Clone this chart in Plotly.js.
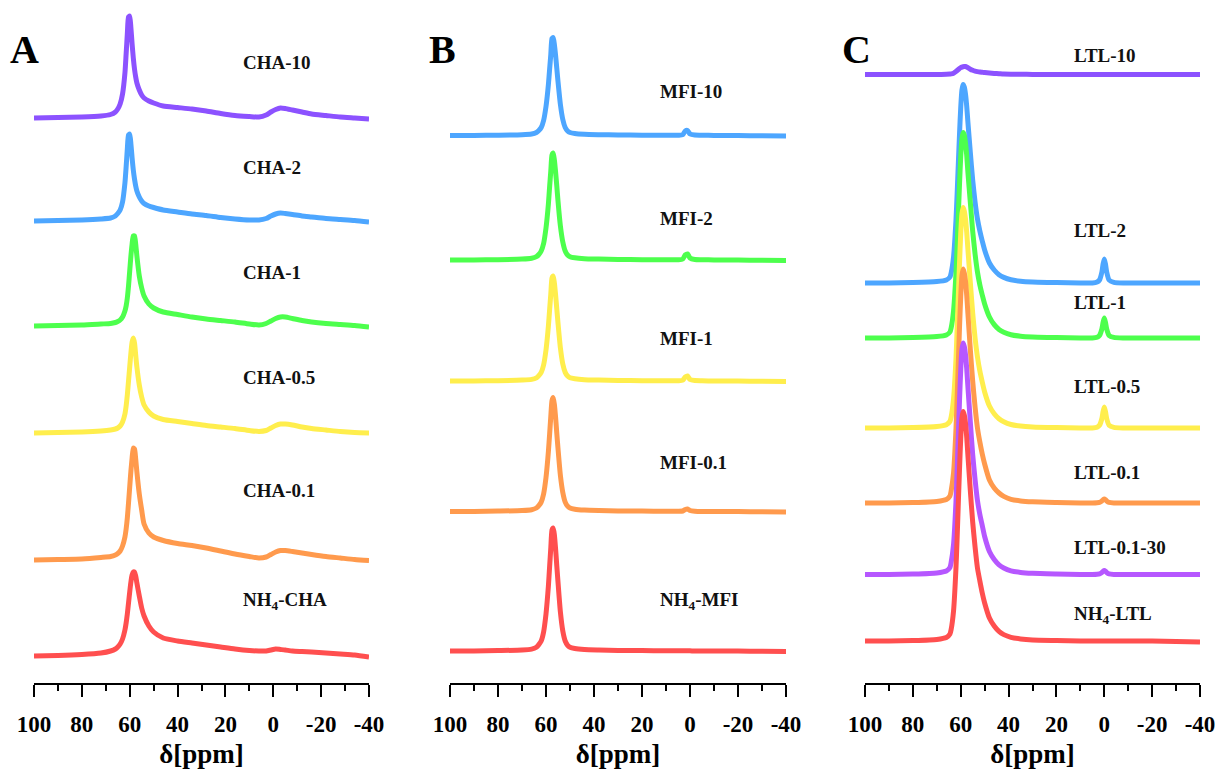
<!DOCTYPE html>
<html><head><meta charset="utf-8">
<script src="https://cdn.plot.ly/plotly-3.0.1.min.js"></script>
<style>html,body{margin:0;padding:0;background:#fff;}#chart{width:1220px;height:769px;}</style>
</head><body><div id="chart"></div>
<script>
// ---------- DATA ----------
const tickVals = [100, 80, 60, 40, 20, 0, -20, -40];
const tickText = ["100", "80", "60", "40", "20", "0", "-20", "-40"];
const minorVals = [90, 70, 50, 30, 10, -10, -30];

// Panel A (CHA)
const namesA = ["CHA-10", "CHA-2", "CHA-1", "CHA-0.5", "CHA-0.1", "NH<sub>4</sub>-CHA"];
const baseA = [565, 462, 357, 250, 123, 27];
const ppmA = [100, 90, 80, 72, 68, 66, 65, 64, 63, 62, 61.5, 61, 60.5, 60, 59.5, 59, 58.5, 58, 57.5, 57, 56, 55, 54, 52, 50, 46, 40, 34, 28, 22, 16, 10, 6, 3, 1, -1, -3, -5, -8, -12, -16, -22, -28, -34, -40];
const cha10 = [0, 0.5, 1, 2, 3.5, 6, 9, 14, 24, 45, 64, 84, 101, 102, 90, 74, 60, 49, 41, 35, 28, 23, 20, 17, 15, 12, 10.5, 9, 7, 4.5, 2.5, 1.5, 1, 3, 6, 8.5, 10, 9.5, 8, 6, 4, 2.5, 1, 0, -1];
const cha2 = [0, 0.5, 1, 2, 3, 5, 7.5, 11, 19, 38, 54, 72, 86, 87, 77, 63, 51, 42, 35, 30, 24, 20, 17.5, 15, 13.5, 11, 9, 7, 5.5, 3.5, 2, 1, 1, 2.5, 5, 7, 8, 7.5, 6.5, 5, 4, 2.5, 1.5, 0.5, -1];
const cha1 = [0, 0.5, 1, 2, 2.5, 3.5, 4.5, 6, 9, 15, 20, 28, 40, 55, 70, 82, 90, 90, 82, 70, 50, 38, 30, 22, 18, 14, 11.5, 9, 7, 5.5, 4, 2, 1, 2.5, 5, 7.5, 9, 9, 7.5, 5.5, 4, 2.5, 1.5, 0.5, -1];
const cha05 = [0, 0.5, 1, 2, 3, 4, 5, 7, 11, 19, 27, 38, 52, 66, 80, 91, 95, 90, 78, 66, 48, 36, 28, 21, 17, 13.5, 11.5, 9.5, 7.5, 6, 4.5, 2.5, 1.5, 2.5, 5, 7.5, 9, 9, 8, 6, 4.5, 3, 1.5, 0.5, 0];
const cha01 = [0, 0.5, 1, 2.5, 3.5, 5, 6.5, 9, 14, 23, 31, 42, 57, 73, 89, 102, 112, 111, 101, 88, 66, 50, 36, 27, 23, 19.5, 16.5, 14.5, 12, 9, 6, 3.5, 2, 3, 5.5, 8, 9.5, 9.5, 8.5, 7, 5.5, 3.5, 2, 0.5, -0.5];
const nh4cha = [0, 0.5, 1.5, 3, 5, 7, 9, 12, 17, 26, 33, 42, 53, 64, 74, 81, 84, 84, 80, 73, 60, 48, 40, 30, 24, 18, 15, 13, 11, 9, 7, 5.5, 5, 5, 6, 7, 6.5, 6, 5, 4.5, 4, 3, 2, 1, -1];
const colorsA = ["#8c52ff", "#4da6ff", "#4dff4d", "#ffee4d", "#ff9a4d", "#ff4f4f"];

// Panel B (MFI)
const namesB = ["MFI-10", "MFI-2", "MFI-1", "MFI-0.1", "NH<sub>4</sub>-MFI"];
const baseB = [547.5, 423, 302, 171.5, 32];
const ppmB = [100, 90, 80, 70, 66, 64, 63, 62, 61, 60, 59.5, 59, 58.5, 58, 57.5, 57, 56.5, 56, 55.5, 55, 54, 53, 52, 51, 50, 48, 44, 38, 30, 20, 10, 5, 3, 2, 1, 0, -2, -5, -10, -20, -30, -40];
const mfi10 = [0, 0, 0.3, 0.8, 1.5, 3, 5, 8, 15, 29, 39, 51, 66, 81, 97, 98, 91, 80, 67, 54, 31, 16, 8, 4.5, 3, 2, 1.2, 0.8, 0.5, 0.3, 0.2, 0.3, 0.8, 4.5, 5, 1.5, 0.4, 0.3, 0, 0, -0.3, -0.5];
const mfi2 = [0, 0, 0.3, 0.9, 1.7, 3.3, 5.5, 9, 16.5, 32, 43, 56, 73, 89, 105, 107, 100, 88, 74, 59, 34, 18, 9, 5, 3.3, 2.2, 1.3, 0.9, 0.5, 0.3, 0.2, 0.3, 1, 5, 6, 2, 0.5, 0.3, 0, 0, -0.3, -0.5];
const mfi1 = [0, 0, 0.3, 0.9, 1.6, 3.2, 5.4, 8.6, 16, 31, 42, 55, 71, 87, 103, 105, 98, 86, 72, 58, 33, 17, 8.6, 4.9, 3.2, 2.2, 1.3, 0.9, 0.5, 0.3, 0.2, 0.3, 0.8, 4, 5, 1.5, 0.4, 0.2, 0, 0, -0.3, -0.5];
const mfi01 = [0, 0, 0.4, 1, 1.8, 3.5, 5.9, 9.4, 17.5, 34, 46, 60, 77, 95, 111, 114, 107, 94, 78, 63, 36, 19, 9.4, 5.3, 3.5, 2.3, 1.4, 0.9, 0.6, 0.4, 0.2, 0.2, 0.5, 2, 2.5, 1, 0.3, 0, 0, 0, -0.3, -0.5];
const nh4mfi = [0, 0, 0.4, 1, 1.9, 3.8, 6.4, 10, 19, 37, 50, 65, 84, 103, 121, 123, 116, 102, 85, 69, 39, 20, 10, 5.7, 3.8, 2.5, 1.5, 1, 0.6, 0.4, 0.2, 0.2, 0.2, 0.2, 0.2, 0.2, 0, 0, 0, 0, -0.3, -0.5];
const colorsB = ["#4da6ff", "#4dff4d", "#ffee4d", "#ff9a4d", "#ff4f4f"];

// Panel C (LTL)
const namesC = ["LTL-10", "LTL-2", "LTL-1", "LTL-0.5", "LTL-0.1", "LTL-0.1-30", "NH<sub>4</sub>-LTL"];
const baseC = [608.5, 400, 345, 255, 180, 108.5, 42];
const ppmC = [100, 90, 80, 70, 66, 64.5, 64, 63, 62, 61.5, 61, 60.5, 60, 59.5, 59, 58.5, 58, 57.5, 57, 56, 55, 54, 53, 52, 51, 50, 48, 46, 44, 42, 39, 35, 30, 20, 10, 5, 3, 2, 1, 0.5, 0, -0.5, -1, -2, -4, -8, -20, -30, -40];
const ltl10 = [0, 0, 0, 0, 0.2, 0.4, 0.6, 1.3, 3, 4, 5, 6, 6.8, 7.4, 7.8, 8, 8, 7.5, 6.8, 5.3, 4.2, 3.4, 2.9, 2.5, 2.2, 1.9, 1.5, 1.1, 0.8, 0.5, 0.3, 0.2, 0.1, 0, 0, 0, 0, 0, 0, 0, 0, 0, 0, 0, 0, 0, 0, 0, 0];
const ltl2 = [0, 0, 0.4, 1.4, 3, 6, 10, 26, 62, 89, 119, 149, 175, 193, 198.5, 196, 189, 177, 161, 131, 103, 81, 64, 52, 42, 33, 20, 13, 8.3, 5.6, 3.2, 1.8, 1, 0.4, 0, 0, 1, 3, 11, 19, 24, 19, 11, 3, 0.7, 0, 0, 0, 0];
const ltl1 = [0, 0, 0.4, 1.4, 3, 6, 10, 27, 64, 92, 123, 154, 181, 199, 205.5, 203, 195, 183, 166, 136, 107, 84, 66, 53, 43, 34, 21, 13.4, 8.6, 5.8, 3.3, 1.8, 1, 0.4, 0, 0, 0.8, 2.6, 9, 15.6, 20, 15.6, 9, 2.6, 0.6, 0, 0, 0, 0];
const ltl05 = [0, 0, 0.4, 1.5, 3.3, 6.6, 11, 29, 68, 99, 132, 165, 194, 214, 220.5, 217, 209, 196, 179, 146, 115, 90, 71, 57, 46, 36, 22, 14.3, 9.3, 6.2, 3.5, 2, 1.1, 0.4, 0, 0, 0.8, 2.7, 9.5, 16.4, 21, 16.4, 9.5, 2.7, 0.6, 0, 0, 0, 0];
const ltl01 = [0, 0, 0.5, 1.6, 3.5, 7, 12, 30, 73, 105, 140, 176, 206, 227, 234, 230, 222, 208, 190, 154, 122, 96, 75, 61, 49, 39, 23, 15, 10, 6.6, 3.7, 2.1, 1.2, 0.5, 0, 0, 0.2, 0.6, 2, 3.2, 4, 3.2, 2, 0.6, 0.1, 0, 0, 0, 0];
const ltl0130 = [0, 0, 0.5, 1.6, 3.5, 7, 12, 30, 72, 104, 139, 174, 204, 225, 231.5, 228, 220, 206, 188, 153, 120, 95, 74, 60, 49, 38, 23, 15, 9.7, 6.5, 3.7, 2.1, 1.2, 0.5, 0, 0, 0.2, 0.6, 2, 3.2, 4, 3.2, 2, 0.6, 0.1, 0, 0, 0, 0];
const nh4ltl = [0, 0, 0.5, 1.6, 3.5, 7, 11.5, 30, 72, 103, 138, 172, 202, 223, 229.5, 226, 218, 204, 186, 151, 119, 94, 73, 60, 48, 38, 23, 15, 9.6, 6.4, 3.7, 2.1, 1.1, 0.5, 0, 0, 0, 0, 0, 0, 0, 0, 0, 0, 0, 0, 0, -0.5, -1];
const colorsC = ["#8c52ff", "#4da6ff", "#4dff4d", "#ffee4d", "#ff9a4d", "#b657ff", "#ff4f4f"];

const seriesA = [cha10, cha2, cha1, cha05, cha01, nh4cha];
const seriesB = [mfi10, mfi2, mfi1, mfi01, nh4mfi];
const seriesC = [ltl10, ltl2, ltl1, ltl05, ltl01, ltl0130, nh4ltl];

// ---------- LAYOUT / STYLE ----------
const W = 1220, H = 769, MB = 86, PH = H - MB;
const FONT = "Liberation Serif, 'Times New Roman', serif";
const panels = [
  {ppm: ppmA, series: seriesA, base: baseA, colors: colorsA, names: namesA, xa: "x", ya: "y",
   dom: [34, 369], letter: "A", letterX: 25, labelY: [62, 167, 272, 377, 490, 601]},
  {ppm: ppmB, series: seriesB, base: baseB, colors: colorsB, names: namesB, xa: "x2", ya: "y2",
   dom: [450, 786], letter: "B", letterX: 442, labelY: [91, 218, 338, 462, 601]},
  {ppm: ppmC, series: seriesC, base: baseC, colors: colorsC, names: namesC, xa: "x3", ya: "y3",
   dom: [865, 1200], letter: "C", letterX: 856, labelY: [55, 230, 302, 386, 472, 547, 615]}
];

const traces = [];
const annotations = [];
const layout = {
  width: W, height: H, margin: {l: 0, r: 0, t: 0, b: MB},
  paper_bgcolor: "#fff", plot_bgcolor: "#fff", showlegend: false,
  annotations: annotations
};

panels.forEach((p, i) => {
  p.series.forEach((s, k) => {
    traces.push({
      type: "scatter", mode: "lines", x: p.ppm, y: s.map(v => v + p.base[k]),
      xaxis: p.xa, yaxis: p.ya,
      line: {color: p.colors[k], width: 5, shape: "spline", smoothing: 0.6},
      hoverinfo: "skip"
    });
    annotations.push({
      xref: p.xa, yref: p.ya, x: 13.5, y: PH - p.labelY[k], xanchor: "left", yanchor: "middle",
      text: p.names[k], showarrow: false,
      font: {family: FONT, size: 19, color: "#111", weight: "bold"}
    });
  });
  annotations.push({
    xref: "paper", yref: "paper", x: p.letterX / W, y: (PH - 49) / PH, xanchor: "center", yanchor: "middle",
    text: p.letter, showarrow: false, font: {family: FONT, size: 40, color: "#000", weight: "bold"}
  });
  const suffix = i === 0 ? "" : String(i + 1);
  layout["xaxis" + suffix] = {
    domain: [p.dom[0] / W, p.dom[1] / W], range: [100, -40], anchor: p.ya,
    tickmode: "array", tickvals: tickVals, ticktext: tickText,
    ticks: "outside", ticklen: 12, tickwidth: 2, tickcolor: "#000",
    minor: {tickmode: "array", tickvals: minorVals, ticks: "outside", ticklen: 6, tickwidth: 2, tickcolor: "#000"},
    showline: true, linewidth: 2, linecolor: "#000", showgrid: false, zeroline: false,
    ticklabelstandoff: 7,
    tickfont: {family: FONT, size: 23, color: "#000", weight: "bold"},
    title: {text: "δ[ppm]", standoff: 9, font: {family: FONT, size: 27, color: "#000", weight: "bold"}},
    fixedrange: true
  };
  layout["yaxis" + suffix] = {
    domain: [0, 1], range: [0, PH], anchor: p.xa, visible: false, fixedrange: true
  };
});

Plotly.newPlot("chart", traces, layout, {staticPlot: true, displayModeBar: false});
</script>
</body></html>
